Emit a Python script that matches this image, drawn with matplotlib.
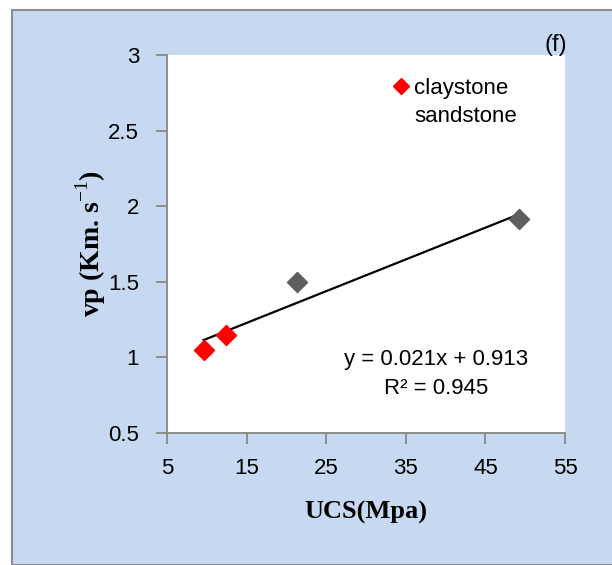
import numpy             as np
import matplotlib.pyplot as plt
from matplotlib.patches import Rectangle
from matplotlib.lines   import Line2D

clay_ucs  = [9.6, 12.4]   # claystone
clay_vp   = [1.05, 1.15]
sand_ucs  = [21.3, 49.2]  # sandstone
sand_vp   = [1.50, 1.915]
slope     = 0.021
intercept = 0.913
r2        = 0.945

bg   = '#c6d9f0'
gray = '#8c8c8c'
sans = 'Liberation Sans'
fs   = 16

plt.rcParams['mathtext.fontset'] = 'custom'
plt.rcParams['mathtext.rm']      = 'Liberation Serif'

fig = plt.figure(figsize=(6.12, 5.65), dpi=100, facecolor='white')
fig.patches.append(Rectangle((12/612, 0), 1, 1 - 10/565, transform=fig.transFigure,
                             facecolor=bg, edgecolor=gray, linewidth=1.5, zorder=-10))

ax = fig.add_axes([167/612, 1 - 433/565, 398/612, 378/565])
ax.set_zorder(1)
ax.set_facecolor('white')

ax.scatter(clay_ucs, clay_vp, marker='D', s=105, color='#ff0000', zorder=3)
ax.scatter(sand_ucs, sand_vp, marker='D', s=105, color='#5f5f5f', zorder=3)

allx = np.array(clay_ucs + sand_ucs)
xl   = np.array([allx.min(), allx.max()])
ax.plot(xl, slope*xl + intercept, color='black', lw=1.6, zorder=2)

ax.set_xlim(5, 55)
ax.set_ylim(0.5, 3)
ax.set_xticks([5, 15, 25, 35, 45, 55])
ax.set_yticks([0.5, 1, 1.5, 2, 2.5, 3])
ax.set_yticklabels(['0.5', '1', '1.5', '2', '2.5', '3'])
for s in ['top', 'right']:
    ax.spines[s].set_visible(False)
for s in ['left', 'bottom']:
    ax.spines[s].set_color(gray)
    ax.spines[s].set_linewidth(1.4)
ax.tick_params(direction='out', length=8, width=1.4, color=gray, labelsize=fs)
ax.tick_params(axis='x', pad=10)
ax.tick_params(axis='y', pad=12)
for lab in ax.get_xticklabels() + ax.get_yticklabels():
    lab.set_family(sans)

ax.set_xlabel('UCS(Mpa)', family='Liberation Serif', fontweight='bold', fontsize=19, labelpad=16)
ax.set_ylabel(r'vp (Km. s$^{\mathrm{-1}}$)', family='Liberation Serif', fontweight='bold',
              fontsize=20, labelpad=0)

handles = [Line2D([], [], marker='D', ls='none', color='#ff0000', markersize=8.5),
           Line2D([], [], marker='D', ls='none', color='none', markersize=8.5)]
ax.legend(handles, ['claystone', 'sandstone'], loc='upper left',
          bbox_to_anchor=((390 - 167)/398, (433 - 78)/378), frameon=False,
          handletextpad=0.1, handlelength=1.0, borderpad=0, borderaxespad=0,
          prop={'family': sans, 'size': fs}, labelspacing=0.3)

ax.text((436 - 167)/398, (433 - 374)/378, f'y = {slope:.3f}x + {intercept:.3f}\nR² = {r2:.3f}',
        transform=ax.transAxes, family=sans, fontsize=fs,
        linespacing=1.5, va='center', ha='center', multialignment='center')

fig.text(556/612, 1 - 45/565, '(f)', family=sans, fontsize=17, ha='center', va='center')

fig.savefig('out.png', dpi=100, facecolor='white')
